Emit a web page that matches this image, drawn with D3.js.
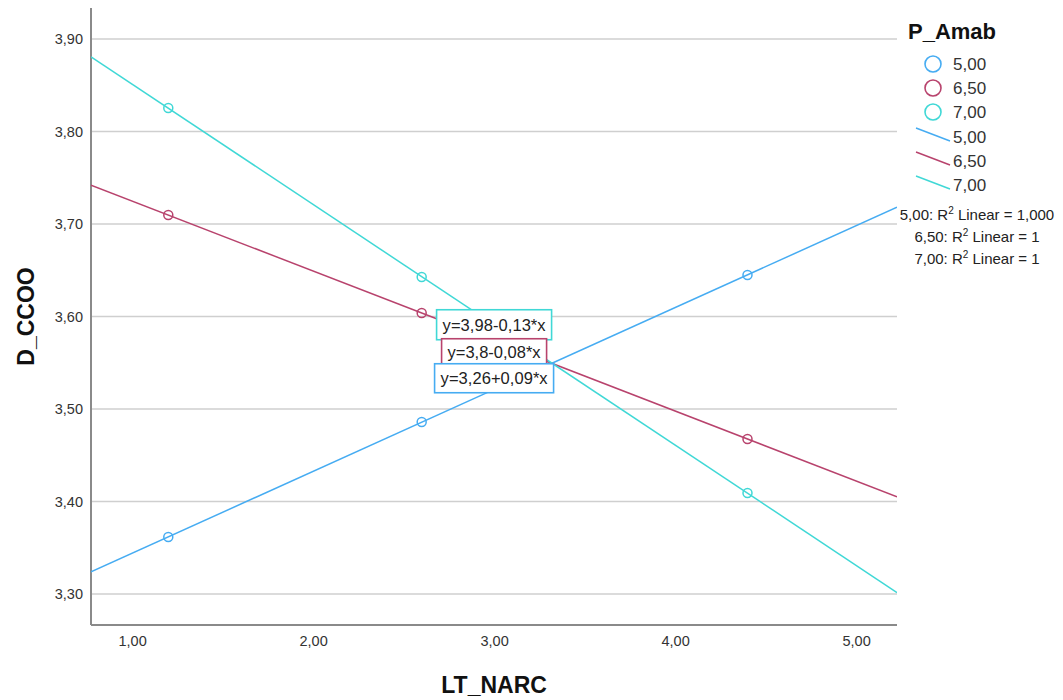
<!DOCTYPE html>
<html>
<head>
<meta charset="utf-8">
<script src="https://cdn.jsdelivr.net/npm/d3@7"></script>
<style>
  html, body { margin: 0; padding: 0; background: #fff; }
  svg { display: block; font-family: Arial, "Liberation Sans", sans-serif; }
</style>
</head>
<body>
<svg id="chart" width="1063" height="700"></svg>
<script>
// Groups of P_Amab and their observed means
const groups = ["5,00", "6,50", "7,00"];
const groupColors = ["#46acf2", "#b8436d", "#40d8d6"];
const xValues = [1.2, 2.6, 4.4];
const yValues5 = [3.3616, 3.4860, 3.6449];
const yValues65 = [3.7097, 3.6038, 3.4676];
const yValues7 = [3.8254, 3.6427, 3.4092];
const series = [yValues5, yValues65, yValues7];
const fitLabels = ["y=3,26+0,09*x", "y=3,8-0,08*x", "y=3,98-0,13*x"];
const r2Labels = ["1,000", "1", "1"];
const yTicks = [3.3, 3.4, 3.5, 3.6, 3.7, 3.8, 3.9];
const xTicks = [1, 2, 3, 4, 5];

const svg = d3.select("#chart");
const plot = { left: 91, right: 897, top: 8, bottom: 625 };

const x = d3.scaleLinear().domain([0.773, 5.226]).range([plot.left, plot.right]);
const y = d3.scaleLinear().domain([3.2665, 3.9335]).range([plot.bottom, plot.top]);
const fmt = v => d3.format(".2f")(v).replace(".", ",");

// least-squares fit for each group
function fit(xs, ys) {
  const mx = d3.mean(xs), my = d3.mean(ys);
  const b = d3.sum(xs, (xv, i) => (xv - mx) * (ys[i] - my)) / d3.sum(xs, xv => (xv - mx) ** 2);
  return { a: my - b * mx, b };
}
const fits = series.map(s => fit(xValues, s));

// horizontal gridlines
svg.append("g").selectAll("line").data(yTicks).join("line")
  .attr("x1", plot.left).attr("x2", plot.right)
  .attr("y1", d => y(d)).attr("y2", d => y(d))
  .attr("stroke", "#cfcfcf").attr("stroke-width", 1.6);

// axes
const yAxis = svg.append("g").attr("transform", `translate(${plot.left},0)`)
  .call(d3.axisLeft(y).tickValues(yTicks).tickFormat(fmt).tickSize(0).tickPadding(8));
const xAxis = svg.append("g").attr("transform", `translate(0,${plot.bottom})`)
  .call(d3.axisBottom(x).tickValues(xTicks).tickFormat(fmt).tickSize(0).tickPadding(11));
[yAxis, xAxis].forEach(g => {
  g.select(".domain").attr("stroke", "#8a8a8a").attr("stroke-width", 2);
  g.selectAll("text").attr("font-size", 14.5).attr("fill", "#333")
    .attr("font-family", "Arial, 'Liberation Sans', sans-serif");
});
yAxis.select(".domain").attr("d", `M0,${plot.bottom}V${plot.top}`);
xAxis.select(".domain").attr("d", `M${plot.left},0H${plot.right}`);

// fit lines clipped to the plot
svg.append("clipPath").attr("id", "clip").append("rect")
  .attr("x", plot.left).attr("y", plot.top)
  .attr("width", plot.right - plot.left).attr("height", plot.bottom - plot.top);
const lineG = svg.append("g").attr("clip-path", "url(#clip)");
const xd = x.domain();
fits.forEach((f, i) => {
  lineG.append("line")
    .attr("x1", x(xd[0])).attr("y1", y(f.a + f.b * xd[0]))
    .attr("x2", x(xd[1])).attr("y2", y(f.a + f.b * xd[1]))
    .attr("stroke", groupColors[i]).attr("stroke-width", 1.5);
});

// observed points
series.forEach((s, i) => {
  svg.append("g").selectAll("circle").data(s).join("circle")
    .attr("cx", (d, j) => x(xValues[j])).attr("cy", d => y(d))
    .attr("r", 4.5).attr("fill", "none")
    .attr("stroke", groupColors[i]).attr("stroke-width", 1.5);
});

// equation boxes, stacked down from the top line at x = 3
const boxX = x(3);
const boxW = [119, 105, 115];
const boxH = [29, 26, 30];
const order = [2, 1, 0];
let cursor = y(fits[2].a + fits[2].b * 3) - boxH[2] / 2;
order.forEach(i => {
  const g = svg.append("g");
  g.append("rect")
    .attr("x", boxX - boxW[i] / 2).attr("y", cursor)
    .attr("width", boxW[i]).attr("height", boxH[i])
    .attr("fill", "#fff").attr("stroke", groupColors[i]).attr("stroke-width", 1.6);
  g.append("text").attr("x", boxX).attr("y", cursor + boxH[i] / 2 + 6)
    .attr("text-anchor", "middle").attr("font-size", 16.5).attr("fill", "#222")
    .attr("textLength", boxW[i] - 12).attr("lengthAdjust", "spacing")
    .text(fitLabels[i]);
  cursor += boxH[i] - 1;
});

// axis titles
svg.append("text").attr("x", x(3)).attr("y", 693)
  .attr("text-anchor", "middle").attr("font-size", 23).attr("font-weight", "bold")
  .attr("fill", "#111").text("LT_NARC");
svg.append("text").attr("transform", `translate(34,${(plot.top + plot.bottom) / 2}) rotate(-90)`)
  .attr("text-anchor", "middle").attr("font-size", 23).attr("font-weight", "bold")
  .attr("fill", "#111").text("D_CCOO");

// legend
const leg = svg.append("g");
leg.append("text").attr("x", 908).attr("y", 39).attr("font-size", 22)
  .attr("font-weight", "bold").attr("fill", "#111").text("P_Amab");
groups.forEach((gname, i) => {
  const cy = 64 + i * 24;
  leg.append("circle").attr("cx", 933).attr("cy", cy).attr("r", 8)
    .attr("fill", "none").attr("stroke", groupColors[i]).attr("stroke-width", 1.6);
  leg.append("text").attr("x", 953).attr("y", cy + 6).attr("font-size", 17)
    .attr("fill", "#333").text(gname);
});
groups.forEach((gname, i) => {
  const cy = 137 + i * 24;
  leg.append("line").attr("x1", 916).attr("y1", cy - 9).attr("x2", 950).attr("y2", cy + 4)
    .attr("stroke", groupColors[i]).attr("stroke-width", 1.5);
  leg.append("text").attr("x", 953).attr("y", cy + 6).attr("font-size", 17)
    .attr("fill", "#333").text(gname);
});
groups.forEach((gname, i) => {
  const t = leg.append("text").attr("x", 977).attr("y", 220 + i * 22)
    .attr("text-anchor", "middle").attr("font-size", 15).attr("fill", "#222");
  t.append("tspan").text(gname + ": R");
  t.append("tspan").attr("font-size", 10).attr("dy", -6).text("2");
  t.append("tspan").attr("dy", 6).text(" Linear = " + r2Labels[i]);
});
</script>
</body>
</html>
